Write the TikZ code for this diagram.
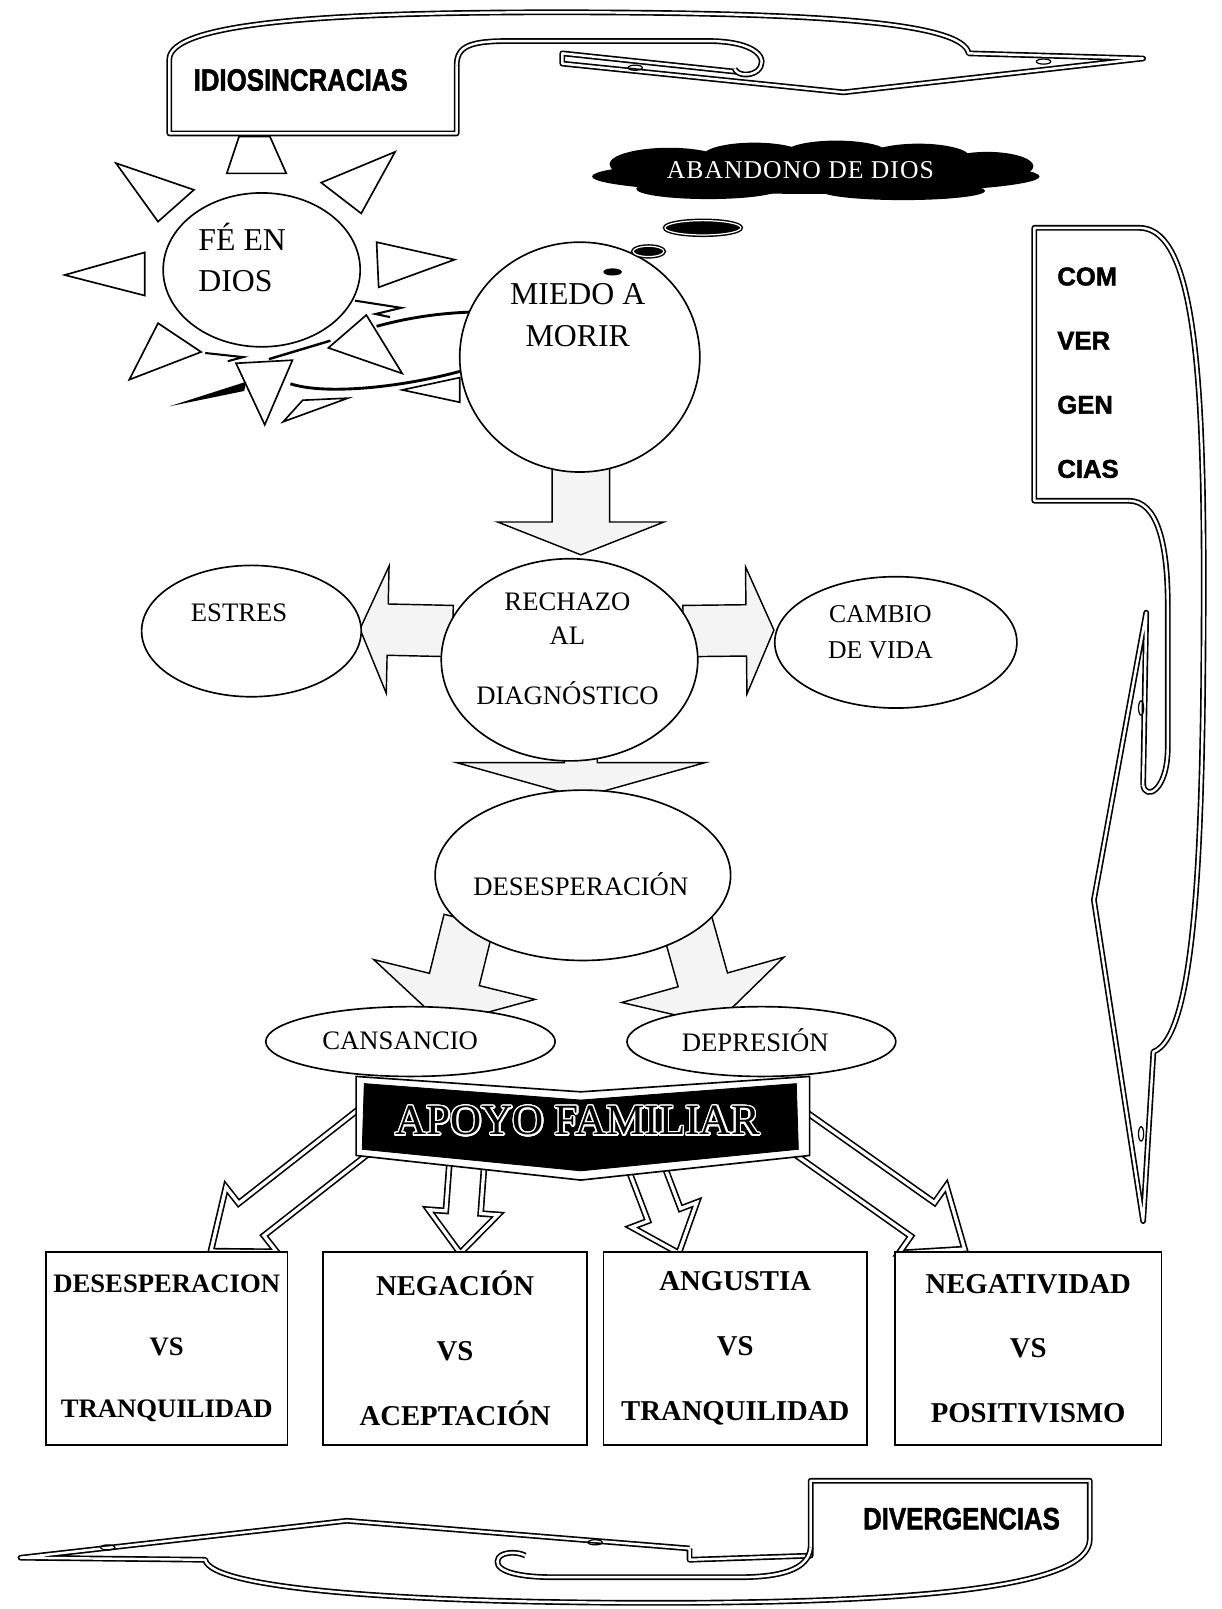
\documentclass[tikz,border=0pt]{standalone}
\usepackage{graphicx}
\usepackage{fontspec}
\setmainfont{Liberation Serif}
\newfontfamily\armsans[BoldFeatures={FakeBold=1.8}]{Liberation Sans}
\newfontfamily\spaced[LetterSpace=4]{Liberation Serif}
\usepackage[copies]{contour}
\contourlength{0.7pt}
\contournumber{24}
\usepackage{tikz}
\usetikzlibrary{shapes.geometric,calc,backgrounds}

% block arrow: style, start, tip, shaft half width, head half width, head length
\newcommand{\blockarr}[6]{%
  \path #2 coordinate (ba-s) #3 coordinate (ba-e);
  \coordinate (ba-h) at ($(ba-e)!#6!(ba-s)$);
  \draw[#1] ($(ba-s)!#4!90:(ba-e)$) -- ($(ba-h)!#4!90:(ba-e)$) -- ($(ba-h)!#5!90:(ba-e)$) -- (ba-e)
    -- ($(ba-h)!#5!-90:(ba-e)$) -- ($(ba-h)!#4!-90:(ba-e)$) -- ($(ba-s)!#4!-90:(ba-e)$) -- cycle;
}

\tikzset{
  bub/.style={ellipse, draw=black, line width=0.8pt, fill=white, inner sep=0pt},
  txt/.style={inner sep=0pt, align=center, font=\fontsize{13}{15.6}\selectfont},
  bigtxt/.style={inner sep=0pt, align=center, font=\fontsize{15.5}{18.6}\selectfont},
  vsbox/.style={draw=black, line width=0.8pt, fill=white, minimum width=128.5pt, minimum height=94pt,
    align=center, inner sep=0pt, font=\bfseries\fontsize{14}{16.8}\selectfont},
  phone/.style={draw=black, line width=0.8pt, double=white, double distance=1.2pt, line join=round},
  ray/.style={draw=black, line width=0.8pt, fill=white, line join=miter},
  grayarr/.style={draw=black, line width=0.7pt, fill=gray!9},
  dblarr/.style={draw=black, line width=0.8pt, double=white, double distance=1.6pt, fill=white, line join=miter},
  tag/.style={inner sep=0pt, font=\armsans\bfseries\fontsize{15}{18}\selectfont},
  conv/.style={inner sep=0pt, anchor=west, font=\armsans\bfseries\fontsize{12.5}{15}\selectfont},
  blob/.style={ellipse, draw=black, fill=black, double=white, double distance=0.6pt, line width=0.7pt, inner sep=0pt},
}

\begin{document}
\begin{tikzpicture}[x=0.5pt, y=-0.5pt]
  \useasboundingbox (0,0) rectangle (1190,1568);

  % handsets
  \draw[phone] (445,64) -- (445,130) -- (165,130) -- (165,58) .. controls (165,22) and (320,12) .. (540,12)
    .. controls (800,12) and (938,22) .. (944,52) -- (1114,57) -- (822,90) -- (548,62) -- (548,52) -- (718,70);
  \draw[phone] (445,64) .. controls (445,45) and (458,40) .. (495,40) -- (690,40)
    .. controls (738,40) and (750,58) .. (738,69) .. controls (730,75) and (718,73) .. (716,67);
  \draw[phone] (1100,488) -- (1008,488) -- (1008,222) -- (1110,222) .. controls (1158,222) and (1173,330) .. (1173,560)
    .. controls (1173,820) and (1166,1010) .. (1124,1025) -- (1114,1190) -- (1066,877) -- (1117,597) -- (1114,765);
  \draw[phone] (1100,488) .. controls (1128,488) and (1138,530) .. (1138,590) -- (1138,728)
    .. controls (1138,772) and (1116,780) .. (1114,765);
  \draw[phone] (672,1509) -- (672,1520) -- (790,1516) -- (790,1443) -- (1062,1443) -- (1062,1500)
    .. controls (1062,1546) and (900,1562) .. (640,1562) .. controls (390,1562) and (205,1548) .. (200,1520)
    -- (20,1518) -- (338,1482) -- (672,1509);
  \draw[phone] (790,1508) .. controls (788,1530) and (760,1537) .. (720,1537) -- (540,1537)
    .. controls (495,1537) and (480,1528) .. (486,1518) .. controls (490,1512) and (505,1512) .. (512,1516);
  \foreach \x/\y in {619/66, 1017/60, 105/1508, 580/1503}
    \draw[line width=0.6pt] (\x,\y) ellipse (7 and 2.5);
  \foreach \y in {690, 1105}
    \draw[line width=0.6pt] (1112,\y) ellipse (2.5 and 7);

  % sun rays
  \draw[ray] (233,133) -- (263,133) -- (279,169) -- (221,169) -- cycle;
  \draw[ray] (113,159) -- (189,185) -- (154,216) -- cycle;
  \draw[ray] (385,148) -- (313,178) -- (352,208) -- cycle;
  \draw[ray] (63,268) -- (141,246) -- (141,288) -- cycle;
  \draw[ray] (367,236) -- (443,253) -- (369,280) -- cycle;
  \draw[ray] (154,315) -- (196,343) -- (126,370) -- cycle;
  \draw[ray] (357,307) -- (392,364) -- (320,339) -- cycle;
  \draw[ray] (230,354) -- (285,351) -- (258,414) -- cycle;
  % sparks
  \draw[line width=1.4pt] (367,318) .. controls (400,309) and (430,305) .. (462,304);
  \draw[line width=1.4pt] (283,374) .. controls (320,386) and (400,376) .. (455,360);
  \draw[line width=1.2pt] (262,350) -- (322,332);
  \draw[line width=1pt, line join=miter] (346,293) -- (391,300) -- (366,306) -- (380,309);
  \draw[line width=1pt] (200,344) -- (237,348) -- (222,352);
  \fill (165,396) -- (240,372) -- (238,381) -- cycle;
  \draw[ray] (276,411) -- (295,390) -- (339,388) -- cycle;
  \draw[ray] (392,380) -- (448,368) -- (448,392) -- cycle;

  % cloud
  \fill (795,172) ellipse (218 and 17);
  \fill (652,160) ellipse (58 and 16) (735,152) ellipse (50 and 13) (815,149) ellipse (50 and 12)
    (895,153) ellipse (50 and 13) (962,162) ellipse (45 and 14) (690,184) ellipse (70 and 10) (880,186) ellipse (80 and 9);

  % ellipses
  \node[bub, minimum width=96pt, minimum height=75pt] (fe) at (255,263) {};
  \node[bub, minimum width=117pt, minimum height=112pt] (miedo) at (565,348) {};
  \node[bub, minimum width=125pt, minimum height=98.5pt] (rechazo) at (555,643) {};
  \node[bub, minimum width=107pt, minimum height=64pt] (estres) at (245,615) {};
  \node[bub, minimum width=118pt, minimum height=64pt] (cambio) at (873,626) {};
  \node[bub, minimum width=144pt, minimum height=83pt] (desesp) at (568,853) {};
  \node[bub, minimum width=141pt, minimum height=34pt] (cansancio) at (400,1015) {};
  \node[bub, minimum width=131pt, minimum height=34pt] (depresion) at (742,1015) {};

  \node[bigtxt, align=left] (feT) at (236,251) {FÉ EN\\[1.4pt]DIOS};
  \node[bigtxt] (miedoT) at (563,307) {MIEDO A\\[1.9pt]MORIR};
  \node[txt] (rechazoT) at (553,632) {RECHAZO\\[1.4pt]AL\\[13.4pt]DIAGNÓSTICO};
  \node[txt] (estresT) at (233,597) {ESTRES};
  \node[txt, font=\fontsize{12.5}{15}\selectfont] (cambioT) at (858,616) {CAMBIO\\[2.5pt]DE VIDA};
  \node[txt] (desespT) at (566,862) {DESESPERACIÓN};
  \node[txt] (cansancioT) at (390,1014) {CANSANCIO};
  \node[txt] (depresionT) at (736,1014) {DEPRESIÓN};
  \node[inner sep=0pt, font=\fontsize{21}{25}\selectfont] (apoyo) at (563,1093) {\contour{white}{APOYO FAMILIAR}};

  % thought bubbles
  \node[inner sep=0pt, text=white, font=\spaced\fontsize{12.5}{15}\selectfont] (abandono) at (780,166) {ABANDONO DE DIOS};
  \node[blob, minimum width=37pt, minimum height=7pt] (bubA) at (685,222) {};
  \node[blob, minimum width=15pt, minimum height=5pt] (bubB) at (632,245) {};
  \node[ellipse, fill=black, minimum width=9pt, minimum height=3.5pt, inner sep=0pt] (bubC) at (597,265) {};

  % boxes
  \node[vsbox, font=\bfseries\fontsize{13}{15.6}\selectfont, minimum width=117.5pt] (box1) at (162.5,1314)
    {DESESPERACION\\[14.9pt]VS\\[14.9pt]TRANQUILIDAD};
  \node[vsbox] (box2) at (443.5,1314) {NEGACIÓN\\[14.7pt]VS\\[14.7pt]ACEPTACIÓN};
  \node[vsbox] (box3) at (716.5,1314) {ANGUSTIA\\[14.7pt]VS\\[14.7pt]TRANQUILIDAD};
  \node[vsbox, minimum width=130pt] (box4) at (1002,1314) {NEGATIVIDAD\\[14.7pt]VS\\[14.7pt]POSITIVISMO};

  % handset labels
  \node[tag] (idio) at (293,78) {\scalebox{0.84}[1]{IDIOSINCRACIAS}};
  \node[tag] (diver) at (937,1480) {\scalebox{0.84}[1]{DIVERGENCIAS}};
  \foreach \w [count=\i] in {COM,VER,GEN,CIAS}
    \node[conv] (conv\i) at (1030,207+62.5*\i) {\w};

  \begin{scope}[on background layer]
    \fill[white] (0,0) rectangle (1190,1568);
    \blockarr{grayarr}{($(miedo.south)+(1,-10)$)}{($(rechazo.north)+(11,-3)$)}{14pt}{40.5pt}{16pt}
    \blockarr{grayarr}{($(rechazo.west)+(12,-28)$)}{($(estres.east)+(-2,-2)$)}{12.5pt}{31pt}{13.5pt}
    \blockarr{grayarr}{($(rechazo.east)+(-15,-28)$)}{($(cambio.west)+(0,-12)$)}{12.5pt}{31pt}{13.5pt}
    \blockarr{grayarr}{($(rechazo.south)+(11,-30)$)}{($(desesp.north)+(-2,8)$)}{8pt}{60.5pt}{17pt}
    \blockarr{grayarr}{($(desesp.center)+(-111,44)$)}{($(cansancio.north)+(32,18)$)}{12.5pt}{40.5pt}{22.5pt}
    \blockarr{grayarr}{($(desesp.center)+(101,45)$)}{($(depresion.north)+(-45,18)$)}{12.5pt}{41pt}{22.5pt}
    \blockarr{dblarr}{($(apoyo.center)+(-190,-5)$)}{($(box1.north)+(43,0)$)}{10pt}{20pt}{25pt}
    \blockarr{dblarr}{($(apoyo.center)+(-108,40)$)}{($(box2.north)+(5,2)$)}{8.5pt}{17pt}{20pt}
    \blockarr{dblarr}{($(apoyo.center)+(65,40)$)}{($(box3.north)+(-55,2)$)}{8.5pt}{17pt}{20pt}
    \blockarr{dblarr}{($(apoyo.center)+(194,-5)$)}{($(box4.north)+(-62,-2)$)}{10pt}{20pt}{25pt}
    % chevron banner
    \draw[line width=0.8pt, fill=white] (347,1049) -- (566,1064) -- (789,1049) -- (789,1126) -- (566,1150) -- (347,1126) -- cycle;
    \filldraw[black] (355,1056) -- (566,1072) -- (776,1056) -- (778,1120) -- (566,1141) -- (353,1120) -- cycle;
  \end{scope}
\end{tikzpicture}
\end{document}
